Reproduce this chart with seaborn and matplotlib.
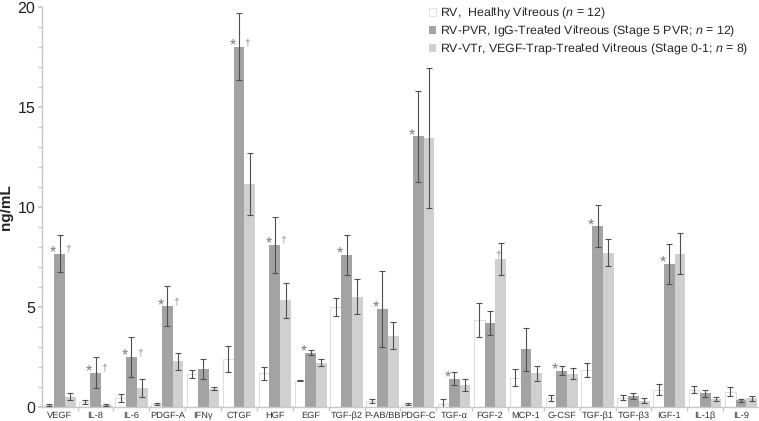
import matplotlib
matplotlib.use("Agg")
import matplotlib.pyplot as plt
from matplotlib.ticker import MultipleLocator, FixedLocator
import seaborn as sns
import pandas as pd
import numpy as np

sns.set_theme(style="white")
plt.rcParams['font.family'] = ['Liberation Sans', 'DejaVu Sans']
plt.rcParams['mathtext.fontset'] = 'custom'
plt.rcParams['mathtext.it'] = 'Liberation Sans:italic'
plt.rcParams['mathtext.rm'] = 'Liberation Sans'
plt.rcParams['text.hinting'] = 'no_hinting'

# data (mean, sd in ng/mL)
cytokines = ["VEGF", "IL-8", "IL-6", "PDGF-A", "IFNγ", "CTGF", "HGF", "EGF", "TGF-β2", "P-AB/BB",
             "PDGF-C", "TGF-α", "FGF-2", "MCP-1", "G-CSF", "TGF-β1", "TGF-β3", "IGF-1", "IL-1β", "IL-9"]
rv = [0.10, 0.27, 0.48, 0.17, 1.65, 2.43, 1.70, 1.32, 5.03, 0.30,
      0.15, 0.18, 4.35, 1.47, 0.47, 1.85, 0.48, 0.88, 0.88, 0.78]
rv_sd = [0.04, 0.10, 0.20, 0.05, 0.21, 0.65, 0.33, 0.03, 0.45, 0.10,
         0.04, 0.25, 0.85, 0.43, 0.16, 0.35, 0.11, 0.28, 0.19, 0.21]
pvr = [7.68, 1.73, 2.52, 5.05, 1.90, 18.02, 8.13, 2.73, 7.63, 4.93,
       13.55, 1.43, 4.22, 2.90, 1.82, 9.05, 0.55, 7.18, 0.70, 0.35]
pvr_sd = [0.92, 0.77, 1.00, 1.00, 0.50, 1.67, 1.40, 0.13, 1.00, 1.90,
          2.27, 0.33, 0.60, 1.08, 0.22, 1.05, 0.16, 1.00, 0.18, 0.08]
vtr = [0.52, 0.13, 0.98, 2.30, 0.93, 11.15, 5.35, 2.23, 5.52, 3.57,
       13.47, 1.10, 7.42, 1.70, 1.68, 7.73, 0.33, 7.68, 0.40, 0.45]
vtr_sd = [0.17, 0.05, 0.45, 0.42, 0.07, 1.54, 0.87, 0.17, 0.88, 0.67,
          3.50, 0.30, 0.80, 0.37, 0.29, 0.68, 0.12, 1.03, 0.09, 0.13]
star = [1, 1, 1, 1, 0, 1, 1, 1, 1, 1, 1, 1, 0, 0, 1, 1, 0, 1, 0, 0]
dagger = [1, 1, 1, 1, 0, 1, 1, 0, 0, 0, 0, 0, 1, 0, 0, 0, 0, 0, 0, 0]

groups = ["RV", "RV-PVR", "RV-VTr"]
legend_labels = ["RV,  Healthy Vitreous ($n$ = 12)",
                 "RV-PVR, IgG-Treated Vitreous (Stage 5 PVR; $n$ = 12)",
                 "RV-VTr, VEGF-Trap-Treated Vitreous (Stage 0-1; $n$ = 8)"]
colors = ["#ffffff", "#a3a3a3", "#d0d0d0"]

df = pd.DataFrame({
    "cytokine": cytokines * 3,
    "group": np.repeat(groups, len(cytokines)),
    "value": rv + pvr + vtr,
    "sd": rv_sd + pvr_sd + vtr_sd,
})

fig, ax = plt.subplots(figsize=(7.59, 4.21), dpi=100)
fig.subplots_adjust(left=0.055, right=1.0, bottom=0.033, top=0.983)

sns.barplot(data=df, x="cytokine", y="value", hue="group", palette=colors,
            width=0.9, errorbar=None, ax=ax, edgecolor="none", linewidth=0)

# error bars placed on the bars seaborn drew
for cont, grp in zip(ax.containers, groups):
    sub = df[df.group == grp]
    xs = [p.get_x() + p.get_width() / 2 for p in cont.patches]
    if grp == "RV":
        for p in cont.patches:
            p.set_edgecolor("#dedede")
            p.set_linewidth(0.8)
    ax.errorbar(xs, sub["value"], yerr=sub["sd"], fmt="none", ecolor="#505050",
                elinewidth=0.8, capsize=2.2, capthick=0.8, zorder=5)

# significance marks
pvr_bars = ax.containers[1].patches
vtr_bars = ax.containers[2].patches
for i in range(len(cytokines)):
    top = max(pvr[i], vtr[i]) if dagger[i] else pvr[i]
    if star[i]:
        p = pvr_bars[i]
        ax.text(p.get_x() - 0.03, pvr[i] + 0.05, "*", color="#7a7a7a", fontsize=11.5,
                ha="center", va="center")
    if dagger[i]:
        p = vtr_bars[i]
        ax.text(p.get_x() + p.get_width() * 0.3, top + 0.22, "†", color="#8a8a8a", fontsize=7.5,
                ha="center", va="center")

ax.set_xlim(-0.5, len(cytokines) - 0.5)
ax.set_ylim(0, 20)
ax.yaxis.set_major_locator(MultipleLocator(5))
ax.yaxis.set_minor_locator(MultipleLocator(1))
ax.xaxis.set_minor_locator(FixedLocator(np.arange(0.5, len(cytokines) - 0.5, 1)))
ax.tick_params(axis="y", which="both", direction="out", left=True, color="#c8c8c8",
               labelsize=11.5, labelcolor="#222222", pad=1.5)
ax.tick_params(axis="y", which="major", length=3)
ax.tick_params(axis="y", which="minor", length=3)
ax.tick_params(axis="x", which="major", length=0, labelsize=6.7, labelcolor="#333333", pad=3)
ax.tick_params(axis="x", which="minor", bottom=True, length=3, color="#c8c8c8")

for s in ["top", "right"]:
    ax.spines[s].set_visible(False)
for s in ["left", "bottom"]:
    ax.spines[s].set_color("#c8c8c8")
    ax.spines[s].set_linewidth(1.0)

ax.set_xlabel("")
ax.set_ylabel("ng/mL", fontsize=11, fontweight="bold", color="#222222")
ax.yaxis.set_label_coords(-0.038, 0.5)

handles, _ = ax.get_legend_handles_labels()
handles[0].set_edgecolor("#dedede")
handles[0].set_linewidth(0.6)
ax.legend(handles, legend_labels, loc="upper left", bbox_to_anchor=(429 / 759, 1 - 6 / 421),
          bbox_transform=fig.transFigure, frameon=False, fontsize=8.9,
          handlelength=0.6, handleheight=0.6, handletextpad=0.3, labelspacing=0.22,
          borderaxespad=0, borderpad=0)

fig.savefig("out.png", dpi=100)
